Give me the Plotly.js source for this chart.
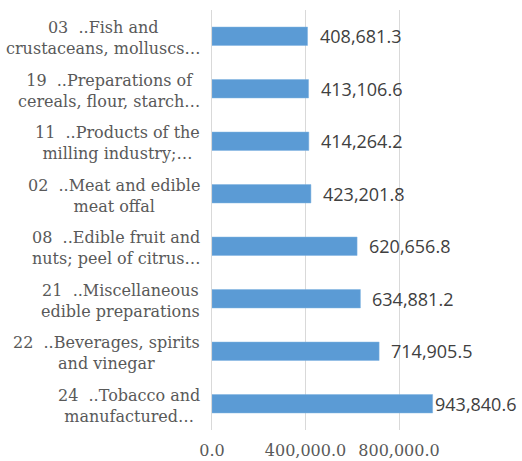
<!DOCTYPE html>
<html>
<head>
<meta charset="utf-8">
<script src="https://cdn.plot.ly/plotly-3.0.1.min.js"></script>
<style>html,body{margin:0;padding:0;background:#fff;}#chart{width:522px;height:461px;}</style>
</head>
<body>
<div id="chart"></div>
<script>
// Categories listed top to bottom
const categories = [
  "03\u00a0 ..Fish and<br>crustaceans, molluscs…",
  "19\u00a0 ..Preparations of<br>cereals, flour, starch…",
  "11\u00a0 ..Products of the<br>milling industry;…",
  "02\u00a0 ..Meat and edible<br>meat offal",
  "08\u00a0 ..Edible fruit and<br>nuts; peel of citrus…",
  "21\u00a0 ..Miscellaneous<br>edible preparations",
  "22\u00a0 ..Beverages, spirits<br>and vinegar",
  "24\u00a0 ..Tobacco and<br>manufactured…"
];
const values = [408681.3, 413106.6, 414264.2, 423201.8, 620656.8, 634881.2, 714905.5, 943840.6];
const valueLabels = ["408,681.3", "413,106.6", "414,264.2", "423,201.8", "620,656.8", "634,881.2", "714,905.5", "943,840.6"];
const tickValues = [0, 400000, 800000];
const tickLabels = ["0.0", "400,000.0", "800,000.0"];

const serif = "DejaVu Serif";
const sans = "Open Sans";

const trace = {
  type: "bar",
  orientation: "h",
  x: values,
  y: categories,
  marker: {color: "#5b9bd5", line: {color: "#7fb2e0", width: 0.5}},
  hoverinfo: "none"
};

const annotations = [];
categories.forEach((c, i) => {
  annotations.push({
    xref: "paper", yref: "y", x: 0, y: c,
    xanchor: "right", yanchor: "middle", xshift: -10, yshift: -2,
    align: "center", showarrow: false, text: c,
    font: {family: serif, size: 16, color: "#595959"}
  });
  annotations.push({
    xref: "x", yref: "y", x: values[i], y: c,
    xanchor: "left", yanchor: "middle", xshift: values[i] > 900000 ? 0 : 10,
    showarrow: false, text: valueLabels[i],
    font: {family: sans, size: 18, color: "#404040"}
  });
});

const layout = {
  width: 522, height: 461,
  margin: {l: 212, r: 12, t: 10, b: 31, pad: 0},
  paper_bgcolor: "#ffffff", plot_bgcolor: "#ffffff",
  showlegend: false,
  bargap: 0.65,
  xaxis: {
    range: [0, 1274866],
    tickvals: tickValues, ticktext: tickLabels,
    showgrid: true, gridcolor: "#d9d9d9", gridwidth: 1,
    zeroline: false, showline: false, ticks: "",
    ticklabelstandoff: 9,
    tickfont: {family: serif, size: 16, color: "#595959"}
  },
  yaxis: {
    type: "category", autorange: "reversed",
    showticklabels: false, showgrid: false, zeroline: false,
    showline: true, linecolor: "#d9d9d9", linewidth: 1, ticks: ""
  },
  annotations: annotations
};

Plotly.newPlot("chart", [trace], layout, {displayModeBar: false, staticPlot: true});
</script>
</body>
</html>
